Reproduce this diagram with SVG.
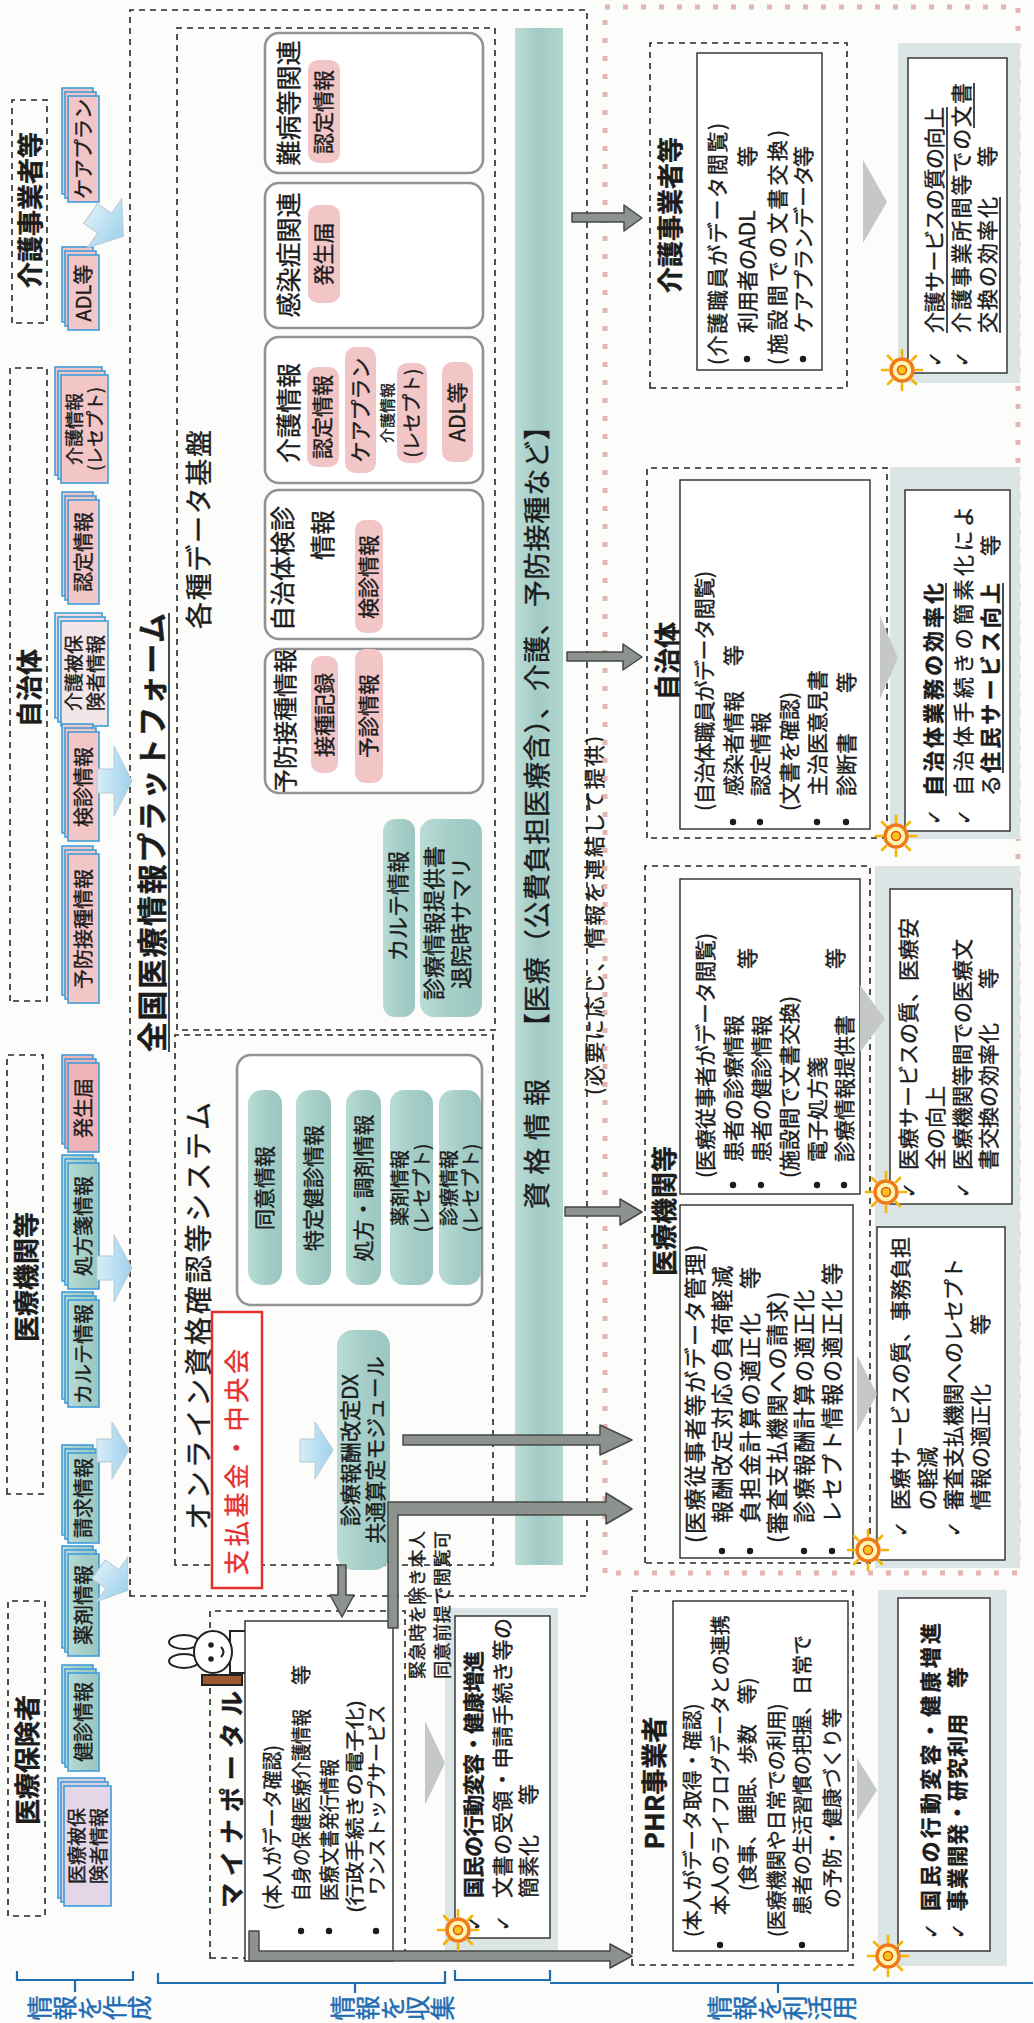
<svg xmlns="http://www.w3.org/2000/svg" width="1034" height="2023" viewBox="0 0 1034 2023">
<defs>
<style>
text{font-family:"Noto Sans CJK JP","Noto Sans CJK SC",sans-serif;stroke:#1c1c1c;stroke-width:0.4px}
.tt{font-size:26px;font-weight:bold}
.bd{font-weight:bold}
.mid{text-anchor:middle}
.ck{font-family:"DejaVu Sans",sans-serif;font-size:19px}
.dash{fill:none;stroke:#262626;stroke-width:1.6;stroke-dasharray:6 5}
.inner{fill:#fff;stroke:#2b2b2b;stroke-width:1.4}
.frame{fill:#dce5e5}
.chev{fill:#c6c8c8}
.rbox{fill:#fff;stroke:#929292;stroke-width:2.6}
.pk{fill:#f2c5c7}
.tl{fill:url(#tealG)}
.ga{fill:#8d928e;stroke:#454946;stroke-width:1.5;stroke-linejoin:round}
.ba{fill:url(#blueG);stroke:#b7cad5;stroke-width:1}
.card{stroke:#3f9ddb;stroke-width:1.6}
.lbl{fill:#1f6cb3;stroke:#1f6cb3;font-size:25px}
.brk{fill:none;stroke:#1f6cb3;stroke-width:2.2}
.ul{stroke:#1c1c1c;stroke-width:1.6}
.red{fill:#e4312f;stroke:#e4312f}
.dotted{fill:none;stroke:#e3b6b2;stroke-width:5;stroke-dasharray:5 13}
.wb{font-size:22px;letter-spacing:1.5px}
</style>
<linearGradient id="tealG" x1="0" y1="0" x2="0" y2="1">
<stop offset="0" stop-color="#b9dcd6"/><stop offset="0.5" stop-color="#a4cec7"/><stop offset="1" stop-color="#9cc7c0"/>
</linearGradient>
<linearGradient id="bandG" x1="0" y1="0" x2="0" y2="1">
<stop offset="0" stop-color="#bcdcd7"/><stop offset="0.5" stop-color="#a2cbc5"/><stop offset="1" stop-color="#b3d6d0"/>
</linearGradient>
<linearGradient id="blueG" x1="0" y1="0" x2="0" y2="1">
<stop offset="0" stop-color="#d7edf7"/><stop offset="1" stop-color="#9fd1ec"/>
</linearGradient>
<g id="sun">
<g stroke="#f4b400" stroke-width="2.6" stroke-linecap="round">
<line x1="14" y1="0" x2="20" y2="0"/><line x1="-14" y1="0" x2="-20" y2="0"/>
<line x1="0" y1="14" x2="0" y2="20"/><line x1="0" y1="-14" x2="0" y2="-20"/>
<line x1="10" y1="10" x2="14" y2="14"/><line x1="-10" y1="10" x2="-14" y2="14"/>
<line x1="10" y1="-10" x2="14" y2="-14"/><line x1="-10" y1="-10" x2="-14" y2="-14"/>
</g>
<circle r="11" fill="#fff6b0" stroke="#f07a1a" stroke-width="3.5"/>
<circle r="4.5" fill="#f8c41c" stroke="#e0521a" stroke-width="1.5"/>
</g>
</defs>

<rect width="1034" height="2023" fill="#fcfcfa"/>

<g transform="translate(0,2023) rotate(-90)" font-size="21" fill="#1c1c1c">

<!-- row labels on the left margin -->
<g id="row-labels">
<path class="brk" d="M52,17 H43 V133 H52 M43,75 H31"/>
<text class="lbl mid"><tspan x="15" y="49">情</tspan><tspan x="15" y="74">報</tspan><tspan x="15" y="99">を</tspan><tspan x="15" y="124">作</tspan><tspan x="15" y="149">成</tspan></text>
<path class="brk" d="M50,158 H40 V445 H52 M40,355 H30"/>
<text class="lbl mid"><tspan x="15" y="352">情</tspan><tspan x="15" y="377">報</tspan><tspan x="15" y="402">を</tspan><tspan x="15" y="427">収</tspan><tspan x="15" y="452">集</tspan></text>
<path class="brk" d="M53,455 H43 V550 H53 M40,550 V1033 M40,778 H30"/>
<text class="lbl mid"><tspan x="15" y="729">情</tspan><tspan x="15" y="754">報</tspan><tspan x="15" y="779">を</tspan><tspan x="15" y="804">利</tspan><tspan x="15" y="829">活</tspan><tspan x="15" y="854">用</tspan></text>
</g>

<!-- data sources -->
<g id="src-kaigo"><rect class="dash" x="1700" y="12" width="223" height="35"/><text class="tt mid" x="1813" y="40" font-size="25">介護事業者等</text></g>
<g id="src-jichitai"><rect class="dash" x="1022" y="10" width="633" height="37"/><text class="tt mid" x="1335" y="39">自治体</text></g>
<g id="src-iryo"><rect class="dash" x="529" y="7" width="439" height="36"/><text class="tt mid" x="746" y="36">医療機関等</text></g>
<g id="src-hoken"><rect class="dash" x="107" y="8" width="315" height="37"/><text class="tt mid" x="263" y="37">医療保険者</text></g>

<g id="cards" font-size="20">
<g id="card-careplan"><rect class="card pk" x="1829" y="62" width="106" height="31"/><rect class="card pk" x="1825" y="65" width="106" height="31"/><rect class="card pk" x="1821" y="68" width="106" height="31"/><text class="mid" x="1874" y="91">ケアプラン</text></g>
<g id="card-adl"><rect class="card pk" x="1701" y="62" width="75" height="31"/><rect class="card pk" x="1697" y="65" width="75" height="31"/><rect class="card pk" x="1693" y="68" width="75" height="31"/><text class="mid" x="1730" y="91">ADL等</text></g>
<g id="card-kaigo-rece"><rect class="card pk" x="1548" y="55" width="108" height="47"/><rect class="card pk" x="1544" y="58" width="108" height="47"/><rect class="card pk" x="1540" y="61" width="108" height="47"/><text class="mid" x="1594" y="81" font-size="18">介護情報</text><text class="mid" x="1594" y="102" font-size="18">(レセプト)</text></g>
<g id="card-nintei"><rect class="card pk" x="1427" y="62" width="104" height="31"/><rect class="card pk" x="1423" y="65" width="104" height="31"/><rect class="card pk" x="1419" y="68" width="104" height="31"/><text class="mid" x="1471" y="91">認定情報</text></g>
<g id="card-kaigo-hihoken"><rect class="card" fill="#efdde0" x="1305" y="55" width="105" height="47"/><rect class="card" fill="#efdde0" x="1301" y="58" width="105" height="47"/><rect class="card" fill="#f3e6e8" x="1297" y="61" width="105" height="47"/><text class="mid" x="1350" y="81" font-size="19">介護被保</text><text class="mid" x="1350" y="103" font-size="19">険者情報</text></g>
<g id="card-kenshin"><rect class="card pk" x="1190" y="62" width="109" height="31"/><rect class="card pk" x="1186" y="65" width="109" height="31"/><rect class="card pk" x="1182" y="68" width="109" height="31"/><text class="mid" x="1236" y="91">検診情報</text></g>
<g id="card-yobo"><rect class="card pk" x="1028" y="62" width="149" height="31"/><rect class="card pk" x="1024" y="65" width="149" height="31"/><rect class="card pk" x="1020" y="68" width="149" height="31"/><text class="mid" x="1094" y="91">予防接種情報</text></g>
<g id="card-hassei"><rect class="card" fill="#eeb3b7" x="879" y="62" width="89" height="31"/><rect class="card" fill="#eeb3b7" x="875" y="65" width="89" height="31"/><rect class="card" fill="#eeb3b7" x="871" y="68" width="89" height="31"/><text class="mid" x="915" y="91">発生届</text></g>
<g id="card-shohosen"><rect class="card tl" x="742" y="62" width="126" height="31"/><rect class="card tl" x="738" y="65" width="126" height="31"/><rect class="card tl" x="734" y="68" width="126" height="31"/><text class="mid" x="797" y="91">処方箋情報</text></g>
<g id="card-karte"><rect class="card tl" x="624" y="62" width="107" height="31"/><rect class="card tl" x="620" y="65" width="107" height="31"/><rect class="card tl" x="616" y="68" width="107" height="31"/><text class="mid" x="669" y="91">カルテ情報</text></g>
<g id="card-seikyu"><rect class="card tl" x="488" y="62" width="90" height="31"/><rect class="card tl" x="484" y="65" width="90" height="31"/><rect class="card tl" x="480" y="68" width="90" height="31"/><text class="mid" x="525" y="91">請求情報</text></g>
<g id="card-yakuzai"><rect class="card tl" x="375" y="62" width="102" height="31"/><rect class="card tl" x="371" y="65" width="102" height="31"/><rect class="card tl" x="367" y="68" width="102" height="31"/><text class="mid" x="418" y="91">薬剤情報</text></g>
<g id="card-kenshin2"><rect class="card tl" x="260" y="62" width="98" height="31"/><rect class="card tl" x="256" y="65" width="98" height="31"/><rect class="card tl" x="252" y="68" width="98" height="31"/><text class="mid" x="301" y="91">健診情報</text></g>
<g id="card-iryo-hihoken"><rect class="card" fill="#dccfe0" x="125" y="58" width="120" height="47"/><rect class="card" fill="#dccfe0" x="121" y="61" width="120" height="47"/><rect class="card" fill="#e3d6e6" x="117" y="64" width="120" height="47"/><text class="mid" x="177" y="84" font-size="19">医療被保</text><text class="mid" x="177" y="106" font-size="19">険者情報</text></g>
</g>

<!-- national platform -->
<g id="platform">
<rect class="dash" x="427" y="130" width="1586" height="457"/>
<text x="971" y="163" font-size="30" font-weight="bold" textLength="439">全国医療情報プラットフォーム</text>
<line class="ul" x1="971" y1="169" x2="1410" y2="169" stroke-width="2"/>
</g>

<g id="data-hub">
<rect class="dash" x="993" y="177" width="1002" height="318"/>
<text x="1394" y="209" font-size="27" textLength="199">各種データ基盤</text>
<g id="hub-nanbyo"><rect class="rbox" x="1850" y="265" width="140" height="218" rx="14"/><text class="mid" x="1920" y="298" font-size="25">難病等関連</text><rect class="pk" x="1860" y="308" width="103" height="32" rx="10"/><text class="mid" x="1911" y="331">認定情報</text></g>
<g id="hub-kansen"><rect class="rbox" x="1695" y="265" width="145" height="218" rx="14"/><text class="mid" x="1768" y="298" font-size="25">感染症関連</text><rect class="pk" x="1720" y="308" width="98" height="32" rx="10"/><text class="mid" x="1769" y="331">発生届</text></g>
<g id="hub-kaigo"><rect class="rbox" x="1540" y="265" width="146" height="218" rx="14"/><text class="mid" x="1610" y="298" font-size="25">介護情報</text>
<rect class="pk" x="1556" y="307" width="100" height="32" rx="10"/><text class="mid" x="1606" y="330">認定情報</text>
<rect class="pk" x="1550" y="345" width="126" height="31" rx="10"/><text class="mid" x="1613" y="368">ケアプラン</text>
<text class="mid" x="1610" y="393" font-size="15">介護情報</text>
<rect class="pk" x="1560" y="397" width="100" height="30" rx="10"/><text class="mid" x="1610" y="419" font-size="19">(レセプト)</text>
<rect class="pk" x="1561" y="442" width="100" height="31" rx="10"/><text class="mid" x="1611" y="465">ADL等</text></g>
<g id="hub-kenshin"><rect class="rbox" x="1384" y="265" width="149" height="218" rx="14"/><text x="1392" y="292" font-size="25">自治体検診</text><text x="1463" y="332" font-size="25">情報</text><rect class="pk" x="1390" y="355" width="113" height="28" rx="10"/><text class="mid" x="1446" y="376">検診情報</text></g>
<g id="hub-yobo"><rect class="rbox" x="1230" y="265" width="144" height="218" rx="14"/><text class="mid" x="1302" y="294" font-size="24">予防接種情報</text><rect class="pk" x="1250" y="311" width="117" height="27" rx="10"/><text class="mid" x="1308" y="332">接種記録</text><rect class="pk" x="1240" y="355" width="134" height="28" rx="10"/><text class="mid" x="1307" y="376">予診情報</text></g>
<g id="hub-karte"><rect class="tl" x="1006" y="383" width="198" height="32" rx="12"/><text class="mid" x="1117" y="406" font-size="22">カルテ情報</text></g>
<g id="hub-teikyo"><rect class="tl" x="1006" y="420" width="198" height="62" rx="14"/><text class="mid" x="1100" y="442" font-size="22">診療情報提供書</text><text class="mid" x="1100" y="469" font-size="22">退院時サマリ</text></g>
</g>

<g id="online">
<rect class="dash" x="458" y="175" width="530" height="318"/>
<text x="493" y="209" font-size="28" textLength="428">オンライン資格確認等システム</text>
<rect class="rbox" x="718" y="237" width="250" height="245" rx="14"/>
<rect class="tl" x="738" y="248" width="195" height="34" rx="14"/><text class="mid" x="835" y="272">同意情報</text>
<rect class="tl" x="738" y="296" width="195" height="35" rx="14"/><text class="mid" x="835" y="321">特定健診情報</text>
<rect class="tl" x="738" y="346" width="195" height="35" rx="14"/><text class="mid" x="835" y="371">処方・調剤情報</text>
<rect class="tl" x="738" y="390" width="195" height="43" rx="14"/><text class="mid" x="835" y="407" font-size="19">薬剤情報</text><text class="mid" x="835" y="429" font-size="19">(レセプト)</text>
<rect class="tl" x="738" y="439" width="195" height="42" rx="14"/><text class="mid" x="835" y="456" font-size="19">診療情報</text><text class="mid" x="835" y="478" font-size="19">(レセプト)</text>
</g>

<g id="shiharai"><rect x="435" y="212" width="276" height="50" fill="#fff" stroke="#e4312f" stroke-width="2.5"/><text class="red" x="448" y="246" font-size="25" textLength="226">支払基金・中央会</text></g>

<g id="santei-module"><rect class="tl" x="453" y="337" width="240" height="53" rx="16"/><text class="mid" x="573" y="358">診療報酬改定DX</text><text class="mid" x="573" y="383">共通算定モジュール</text></g>

<g id="band">
<rect x="458" y="515" width="1537" height="48" fill="url(#bandG)"/>
<text x="814" y="547" font-size="27" textLength="130">資格情報</text>
<text x="983" y="547" font-size="27" textLength="627">【医療（公費負担医療含）、介護、予防接種など】</text>
</g>
<text id="note-link" x="928" y="602" textLength="359">(必要に応じ、情報を連結して提供)</text>

<!-- outer dotted frame of the user side -->
<rect id="user-frame" class="dotted" x="450" y="605" width="1566" height="413"/>

<!-- care providers -->
<g id="use-kaigo">
<rect class="dash" x="1635" y="650" width="345" height="197"/>
<text class="tt mid" x="1808" y="680">介護事業者等</text>
<rect class="inner" x="1653" y="697" width="317" height="125"/>
<text x="1658" y="725" textLength="242">(介護職員がデータ閲覧)</text>
<circle cx="1664" cy="747" r="3.2"/><text x="1690" y="755">利用者のADL</text><text x="1856" y="755">等</text>
<text x="1658" y="785" textLength="235">(施設間での文書交換)</text>
<circle cx="1664" cy="803" r="3.2"/><text x="1690" y="811">ケアプランデータ</text><text x="1856" y="811">等</text>
</g>
<g id="out-kaigo">
<rect class="frame" x="1640" y="898" width="340" height="122"/>
<rect class="inner" x="1650" y="908" width="315" height="99"/>
<text class="ck" x="1656" y="942">✓</text><text x="1690" y="942" textLength="226">介護サービスの質の向上</text><line class="ul" x1="1690" y1="947" x2="1916" y2="947"/>
<text class="ck" x="1656" y="969">✓</text><text x="1690" y="969" textLength="250">介護事業所間等での文書</text><line class="ul" x1="1895" y1="974" x2="1940" y2="974"/>
<text x="1690" y="995" textLength="136">交換の効率化</text><line class="ul" x1="1690" y1="1000" x2="1826" y2="1000"/><text x="1856" y="995">等</text>
</g>

<!-- municipalities -->
<g id="use-jichitai">
<rect class="dash" x="1185" y="647" width="370" height="240"/>
<text class="tt mid" x="1362" y="677">自治体</text>
<rect class="inner" x="1194" y="680" width="349" height="190"/>
<text x="1212" y="712" textLength="240">(自治体職員がデータ閲覧)</text>
<circle cx="1201" cy="733" r="3.2"/><text x="1227" y="741">感染者情報</text><text x="1357" y="741">等</text>
<circle cx="1201" cy="760" r="3.2"/><text x="1227" y="768">認定情報</text>
<text x="1212" y="797">(文書を確認)</text>
<circle cx="1201" cy="817" r="3.2"/><text x="1227" y="825">主治医意見書</text>
<circle cx="1201" cy="846" r="3.2"/><text x="1227" y="854">診断書</text><text x="1330" y="854">等</text>
</g>
<g id="out-jichitai">
<rect class="frame" x="1184" y="890" width="372" height="130"/>
<rect class="inner" x="1192" y="905" width="341" height="105"/>
<text class="ck" x="1198" y="941">✓</text><text class="bd" x="1227" y="941" textLength="213">自治体業務の効率化</text><line class="ul" x1="1227" y1="946" x2="1440" y2="946"/>
<text class="ck" x="1198" y="971">✓</text><text x="1227" y="971" textLength="290">自治体手続きの簡素化によ</text>
<text x="1227" y="998">る</text><text class="bd" x="1250" y="998" textLength="190">住民サービス向上</text><line class="ul" x1="1250" y1="1003" x2="1440" y2="1003"/><text x="1467" y="998">等</text>
</g>

<!-- medical institutions -->
<g id="use-iryo">
<rect class="dash" x="460" y="645" width="697" height="225"/>
<text class="tt mid" x="812" y="674">医療機関等</text>
<rect class="inner" x="829" y="680" width="315" height="180"/>
<text x="845" y="713">(医療従事者がデータ閲覧)</text>
<circle cx="838" cy="733" r="3.2"/><text x="861" y="741">患者の診療情報</text>
<circle cx="838" cy="761" r="3.2"/><text x="861" y="769">患者の健診情報</text><text x="1054" y="755">等</text>
<text x="845" y="797">(施設間で文書交換)</text>
<circle cx="838" cy="817" r="3.2"/><text x="861" y="825">電子処方箋</text>
<circle cx="838" cy="844" r="3.2"/><text x="861" y="852">診療情報提供書</text><text x="1054" y="843">等</text>
<rect class="inner" x="465" y="680" width="353" height="173"/>
<text class="wb" x="480" y="703">(医療従事者等がデータ管理)</text>
<circle cx="472" cy="722" r="3.2"/><text class="wb" x="500" y="730">報酬改定対応の負荷軽減</text>
<circle cx="472" cy="750" r="3.2"/><text class="wb" x="500" y="758">負担金計算の適正化</text><text class="wb" x="734" y="758">等</text>
<text class="wb" x="480" y="785">(審査支払機関への請求)</text>
<circle cx="472" cy="804" r="3.2"/><text class="wb" x="500" y="812">診療報酬計算の適正化</text>
<circle cx="472" cy="832" r="3.2"/><text class="wb" x="500" y="840">レセプト情報の適正化</text><text class="wb" x="738" y="840">等</text>
</g>
<g id="out-iryo">
<rect class="frame" x="455" y="875" width="702" height="145"/>
<rect class="inner" x="819" y="890" width="315" height="122"/>
<text class="ck" x="825" y="916">✓</text><text x="853" y="916">医療サービスの質、医療安</text>
<text x="853" y="943">全の向上</text>
<text class="ck" x="825" y="970">✓</text><text x="853" y="970">医療機関等間での医療文</text>
<text x="853" y="996">書交換の効率化</text><text x="1034" y="996">等</text>
<rect class="inner" x="463" y="877" width="333" height="128"/>
<text class="ck" x="486" y="908">✓</text><text x="513" y="908">医療サービスの質、事務負担</text>
<text x="513" y="935">の軽減</text>
<text class="ck" x="486" y="961">✓</text><text x="513" y="961">審査支払機関へのレセプト</text>
<text x="513" y="988">情報の適正化</text><text x="688" y="988">等</text>
</g>

<!-- PHR providers -->
<g id="use-phr">
<rect class="dash" x="58" y="632" width="374" height="221"/>
<text class="tt mid" x="240" y="664">PHR事業者</text>
<rect class="inner" x="72" y="673" width="350" height="175"/>
<text x="86" y="700" font-size="20">(本人がデータ取得・確認)</text>
<circle cx="78" cy="720" r="3.2"/><text x="108" y="728" font-size="20">本人のライフログデータとの連携</text>
<text x="132" y="755" font-size="20">(食事、睡眠、歩数　等)</text>
<text x="86" y="784" font-size="20">(医療機関や日常での利用)</text>
<circle cx="78" cy="802" r="3.2"/><text x="108" y="810" font-size="20">患者の生活習慣の把握、日常で</text>
<text x="115" y="840" font-size="20">の予防・健康づくり等</text>
</g>
<g id="out-phr">
<rect class="frame" x="57" y="878" width="376" height="129"/>
<rect class="inner" x="72" y="898" width="353" height="92"/>
<text class="ck" x="84" y="938">✓</text><text class="bd" x="112" y="938" textLength="288">国民の行動変容・健康増進</text>
<text class="ck" x="84" y="965">✓</text><text class="bd" x="112" y="965" textLength="197">事業開発・研究利用</text><text class="bd" x="335" y="965">等</text>
</g>

<!-- Mynaportal -->
<g id="mynaportal">
<rect class="dash" x="65" y="210" width="347" height="195"/>
<text x="115" y="241" font-size="25" font-weight="bold" textLength="217">マイナポータル</text>
<g id="mascot" stroke="#222" stroke-width="2">
<ellipse cx="362" cy="184" rx="7" ry="15" fill="#fff"/>
<ellipse cx="381" cy="184" rx="7" ry="15" fill="#fff"/>
<path d="M350,230 L392,230 L392,247 L350,247 Z" fill="#fff"/>
<ellipse cx="371" cy="213" rx="21" ry="19" fill="#fff"/>
<circle cx="364" cy="211" r="1.8" fill="#222"/><circle cx="378" cy="211" r="1.8" fill="#222"/>
<path d="M366,221 Q371,226 376,221" fill="none"/>
<rect x="338" y="202" width="10" height="40" fill="#9a5a30"/>
</g>
<rect class="inner" x="62" y="245" width="340" height="148"/>
<text x="113" y="280" font-size="20" textLength="165" lengthAdjust="spacingAndGlyphs">(本人がデータ確認)</text>
<circle cx="92" cy="301" r="3.2"/><text x="122" y="309" font-size="20" textLength="192" lengthAdjust="spacingAndGlyphs">自身の保健医療介護情報</text><text x="338" y="309" font-size="20">等</text>
<circle cx="92" cy="329" r="3.2"/><text x="122" y="337" font-size="20" textLength="142" lengthAdjust="spacingAndGlyphs">医療文書発行情報</text>
<text x="110" y="362" font-size="19" textLength="213" lengthAdjust="spacingAndGlyphs">(行政手続きの電子化)</text>
<circle cx="92" cy="376" r="3.2"/><text x="128" y="384" font-size="19" textLength="190" lengthAdjust="spacingAndGlyphs">ワンストップサービス</text>
</g>
<g id="out-myna">
<rect class="frame" x="72" y="445" width="343" height="113"/>
<rect class="inner" x="85" y="455" width="322" height="95"/>
<text class="ck" x="92" y="481">✓</text><text class="bd" x="125" y="481" textLength="247">国民の行動変容・健康増進</text>
<text class="ck" x="92" y="510">✓</text><text x="125" y="510" textLength="280">文書の受領・申請手続き等の</text>
<text x="125" y="536">簡素化</text><text x="218" y="536">等</text>
</g>
<text id="note-consent" font-size="18"><tspan x="344" y="424" textLength="148">緊急時を除き本人</tspan><tspan x="344" y="449" textLength="148">同意前提で閲覧可</tspan></text>

<!-- benefit chevrons -->
<g id="chevrons">
<polygon class="chev" points="1780,863 1863,863 1821,887"/>
<polygon class="chev" points="1324,880 1407,880 1365,898"/>
<polygon class="chev" points="971,860 1038,860 1004,885"/>
<polygon class="chev" points="591,857 668,857 629,877"/>
<polygon class="chev" points="202,857 265,857 233,877"/>
<polygon class="chev" points="218,425 302,425 260,445"/>
</g>

<!-- connectors -->
<g id="connectors">
<polygon class="ba" transform="rotate(35 1798 107)" points="1786,87 1810,87 1810,104 1828,104 1798,127 1768,104 1786,104"/>
<polygon class="ba" points="1230,97 1254,97 1254,114 1277,114 1242,132 1207,114 1230,114"/>
<polygon class="ba" points="743,97 767,97 767,114 788,114 755,132 721,114 743,114"/>
<polygon class="ba" points="561,97 584,97 584,112 601,112 573,129 544,112 561,112"/>
<polygon class="ba" transform="rotate(35 443 113)" points="432,95 455,95 455,112 470,112 443,131 416,112 432,112"/>
<polygon class="ba" points="561,300 584,300 584,315 601,315 573,333 544,315 561,315"/>
<polygon class="ga" points="1801,572 1810,572 1810,624 1818,624 1805,642 1792,624 1801,624"/>
<polygon class="ga" points="1362,567 1371,567 1371,623 1379,623 1366,642 1353,623 1362,623"/>
<polygon class="ga" points="807,565 816,565 816,620 824,620 811,642 798,620 807,620"/>
<polygon class="ga" points="578,403 588,403 588,600 598,600 583,632 568,600 578,600"/>
<polygon class="ga" points="395,388 521,388 521,606 530,606 514,632 499,606 508,606 508,398 395,398"/>
<polygon class="ga" points="458,338 428,338 428,330 406,342 428,354 428,346 458,346"/>
<polygon class="ga" points="92,249 62,249 62,610 55,610 67,632 79,610 72,610 72,259 92,259"/>
</g>

<g id="suns">
<use href="#sun" x="1653" y="902"/>
<use href="#sun" x="1187" y="896"/>
<use href="#sun" x="831" y="886"/>
<use href="#sun" x="473" y="868"/>
<use href="#sun" x="67" y="888"/>
<use href="#sun" x="93" y="458"/>
</g>

</g>
</svg>
